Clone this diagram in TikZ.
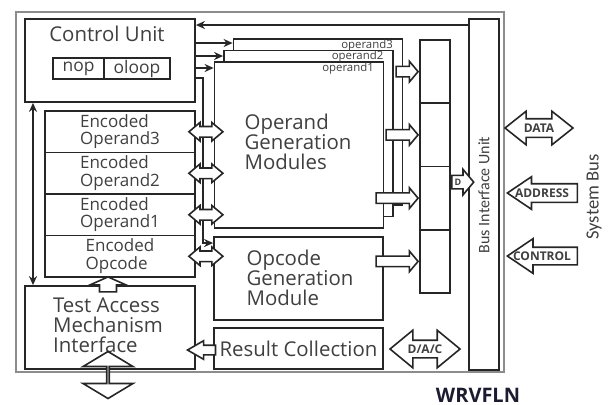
\documentclass[tikz,border=0pt]{standalone}
\usepackage{fontspec}
\setmainfont{Open Sans}
\newfontfamily\narrowfont{Carlito}
\usetikzlibrary{shapes.arrows,arrows.meta,calc}
\definecolor{DiagLine}{HTML}{262626}
\definecolor{DiagText}{HTML}{404040}
\definecolor{DiagFrame}{HTML}{8C8C8C}
\definecolor{DiagTitle}{HTML}{1C1C30}
\tikzset{
  unitbox/.style={draw=DiagLine, line width=0.9pt, fill=white, inner sep=0pt, text=DiagText},
  wire/.style={draw=DiagLine, line width=0.8pt},
  headtip/.style={-{Stealth[length=4.5pt,width=4pt]}},
  blockline/.style={draw=DiagLine, fill=white, line width=0.8pt, line join=miter},
  blockarrow/.style={single arrow, draw=DiagLine, fill=white, line width=0.8pt, inner xsep=0pt},
  twoarrow/.style={double arrow, draw=DiagLine, fill=white, line width=0.8pt, inner xsep=0pt},
  bigfont/.style={font=\fontsize{10.2pt}{10pt}\selectfont, text=DiagText, align=left},
  encfont/.style={font=\fontsize{8.5pt}{8.7pt}\selectfont, text=DiagText, align=left},
  tinyfont/.style={font=\fontsize{5.7pt}{6pt}\selectfont, text=DiagText, inner sep=0.6pt},
  bustxt/.style={font=\bfseries\fontsize{6pt}{6pt}\selectfont, text=DiagText, inner sep=0pt}
}
\begin{document}
\begin{tikzpicture}[x=0.5pt,y=-0.5pt]
\useasboundingbox (0,0) rectangle (608,404);
% frame of the whole unit
\draw[DiagFrame, line width=1.3pt] (16,12) rectangle (504,372);

% control unit
\node[unitbox, minimum width=85pt, minimum height=41.5pt] (cu) at (110,60.5) {};
\node[bigfont] (cutxt) at (107,34) {Control Unit};
\node[unitbox, minimum width=25.5pt, minimum height=10.5pt, font=\fontsize{8.7pt}{9pt}\selectfont] (nop) at (78.5,68.5) {nop};
\node[unitbox, minimum width=33pt, minimum height=10.5pt, font=\fontsize{8.7pt}{9pt}\selectfont] (oloop) at (137,68.5) {oloop};

% encoded registers
\foreach \name/\txt [count=\i] in {enc3/Operand3, enc2/Operand2, enc1/Operand1, encop/Opcode}
  \node[unitbox, minimum width=75pt, minimum height=20.75pt, encfont] (\name) at (120,90.25+41.5*\i) {Encoded\\\txt};

% test access mechanism
\node[unitbox, minimum width=85pt, minimum height=41.5pt] (tam) at (110,327.5) {};
\node[bigfont] (tamtxt) at (108,325) {Test Access\\Mechanism\\Interface};

% operand generation modules, back to front
\node[unitbox, minimum width=84.5pt, minimum height=83pt] (op3) at (318,122) {};
\node[unitbox, minimum width=84.5pt, minimum height=83pt] (op2) at (308.5,133.5) {};
\node[unitbox, minimum width=84.5pt, minimum height=83pt] (op1) at (299,145) {};
\node[tinyfont, anchor=north east] (op3txt) at ([xshift=-4.5pt]op3.north east) {operand3};
\node[tinyfont, anchor=north east] (op2txt) at ([xshift=-4.5pt]op2.north east) {operand2};
\node[tinyfont, anchor=north east] (op1txt) at ([xshift=-4.5pt]op1.north east) {operand1};
\node[bigfont] (optxt) at (298,142) {Operand\\Generation\\Modules};

% opcode module and result collection
\node[unitbox, minimum width=84.5pt, minimum height=41.5pt] (opc) at (298.5,278.5) {};
\node[bigfont] (opctxt) at (300,278) {Opcode\\Generation\\Module};
\node[unitbox, minimum width=84.5pt, minimum height=20.5pt, bigfont] (res) at (298.5,348.5) {Result Collection};

% register column and bus interface
\foreach \i in {1,...,4}
  \node[unitbox, minimum width=15pt, minimum height=31.625pt] (reg\i) at (435,8.375+63.25*\i) {};
\node[unitbox, minimum width=15pt, minimum height=175.5pt] (biu) at (484,194.5) {};
\node[rotate=90, font=\narrowfont\fontsize{8pt}{8pt}\selectfont, text=DiagText] (biutxt) at (484,195) {Bus Interface Unit};

% control wires
\draw[wire, headtip] (biu.west |- 0,25) -- (cu.east |- 0,25);
\draw[wire, headtip] (cu.east |- 0,43) -- (op3.west |- 0,43);
\draw[wire, headtip] (cu.east |- 0,56) -- (op2.west |- 0,56);
\draw[wire, headtip] (cu.east |- 0,68) -- (op1.west |- 0,68);
\coordinate (opcin) at (203,243);
\draw[wire, headtip] (cu.east |- 0,78) -| (opcin) -- (opc.west |- opcin);
\draw[wire, {Stealth[length=4.5pt,width=4pt]}-{Stealth[length=4.5pt,width=4pt]}] (cu.south -| 33,0) -- (tam.north -| 33,0);

% block arrows
\foreach \n in {enc3,enc2,enc1,encop}
  \node[twoarrow, inner ysep=2.25pt, minimum height=17pt, minimum width=8.5pt, double arrow head extend=2pt, double arrow tip angle=80] (\n-bus) at ([xshift=5pt]\n.east) {};
\foreach \i/\len in {1/11pt,2/16pt,3/21pt,4/21pt}
  \node[blockarrow, anchor=tip, inner ysep=2.25pt, minimum height=\len, minimum width=9.5pt, single arrow head extend=2.5pt, single arrow tip angle=100] (out\i) at (reg\i.west) {};
\node[blockarrow, anchor=tail, yshift=8pt, inner ysep=3pt, minimum height=11pt, minimum width=12pt, single arrow head extend=3pt, single arrow tip angle=100] (dout) at (reg3.east) {};
\node[font=\bfseries\fontsize{4.5pt}{4.5pt}\selectfont, text=DiagText, inner sep=0pt] (douttxt) at ([xshift=3.5pt]dout.tail) {D};
\coordinate (tamtip) at ([yshift=0.5pt]encop.south -| 108,0);
\draw[blockline] (tamtip) -- ++(9pt,-4pt) -- ++(-4.75pt,0pt) -- ++(0pt,-3.5pt) -- ++(-8.5pt,0pt) -- ++(0pt,3.5pt) -- ++(-4.75pt,0pt) -- cycle;
\node[blockarrow, anchor=tip, shape border rotate=180, xshift=-5pt, inner ysep=2pt, minimum height=14pt, minimum width=8.5pt, single arrow head extend=2.25pt, single arrow tip angle=60] (resout) at (tam.east |- 0,350) {};
\node[twoarrow, shape border rotate=90, inner ysep=5pt, minimum height=23.5pt, minimum width=25pt, double arrow head extend=7.5pt, double arrow tip angle=118] (tamio) at (108,375) {};
\node[twoarrow, inner ysep=4pt, minimum height=35pt, minimum width=18pt, double arrow head extend=5pt, double arrow tip angle=79] (dac) at (425,349) {};
\node[bustxt] (dactxt) at (dac.center) {D/A/C};

% system bus side
\node[twoarrow, inner ysep=4.25pt, minimum height=34pt, minimum width=16pt, double arrow head extend=3.75pt, double arrow tip angle=77] (data) at (539,128) {};
\node[bustxt] (datatxt) at (data.center) {DATA};
\node[blockarrow, anchor=tip, shape border rotate=180, xshift=3pt, inner ysep=4.25pt, minimum height=35pt, minimum width=15.5pt, single arrow head extend=3.5pt, single arrow tip angle=68] (addr) at (biu.east |- 0,193) {};
\node[bustxt] (addrtxt) at ($(addr.tip)!0.5!(addr.tail)$) {ADDRESS};
\node[blockarrow, anchor=tip, shape border rotate=180, xshift=3pt, inner ysep=4pt, minimum height=35pt, minimum width=16.5pt, single arrow head extend=4.25pt, single arrow tip angle=68] (ctrl) at (biu.east |- 0,256) {};
\node[bustxt] (ctrltxt) at ($(ctrl.tip)!0.5!(ctrl.tail)$) {CONTROL};
\node[rotate=90, font=\narrowfont\fontsize{9.3pt}{9.3pt}\selectfont, text=DiagText] (sysbus) at (594,197) {System Bus};
\node[font=\bfseries\fontsize{10pt}{10pt}\selectfont, text=DiagTitle] (title) at (478,395) {WRVFLN};
\end{tikzpicture}
\end{document}
